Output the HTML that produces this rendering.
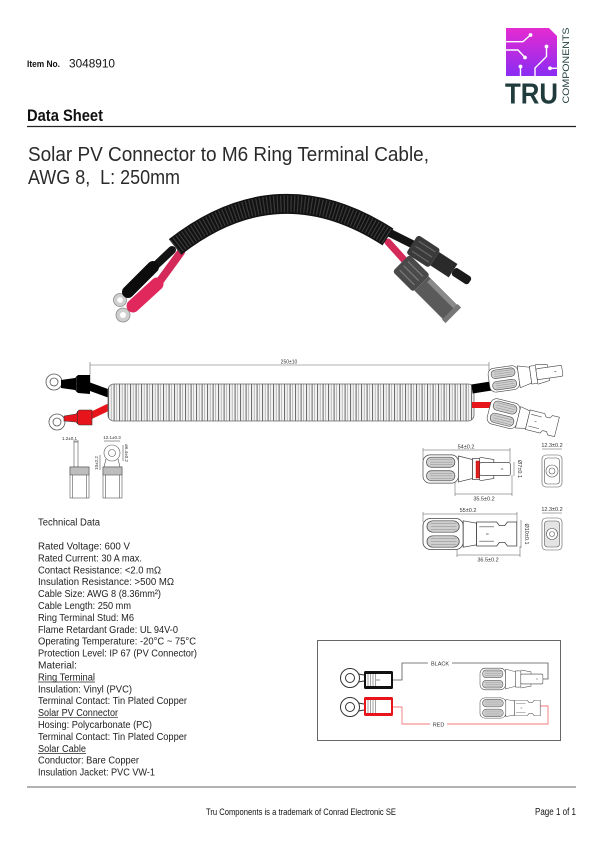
<!DOCTYPE html>
<html><head><meta charset="utf-8">
<style>
html,body{margin:0;padding:0;background:#fff;}
svg{display:block;}
text{font-family:"Liberation Sans",Arial,sans-serif;}
</style></head><body>
<svg width="601" height="850" viewBox="0 0 601 850" xmlns="http://www.w3.org/2000/svg">
<defs>
<linearGradient id="lg" x1="0" y1="0" x2="0" y2="1">
<stop offset="0" stop-color="#e52bd0"/><stop offset="1" stop-color="#8a2cf3"/>
</linearGradient>
<pattern id="rib" x="108" y="0" width="5.5" height="10" patternUnits="userSpaceOnUse">
<rect width="5.5" height="10" fill="#f4f4f4"/>
<line x1="0.6" y1="0" x2="0.6" y2="10" stroke="#555" stroke-width="0.9"/>
<line x1="3.2" y1="0" x2="3.2" y2="10" stroke="#a0a0a0" stroke-width="0.7"/>
</pattern>
<g id="mc" stroke="#444" stroke-width="0.6" fill="#fff">
  <rect x="0" y="-12" width="30" height="24" rx="6"/>
  <rect x="3" y="-10" width="24" height="8.5" rx="4" fill="#cfcfcf"/>
  <rect x="3" y="1.5" width="24" height="8.5" rx="4" fill="#cfcfcf"/>
  <path d="M6,-8 H25 M6,-5.8 H25 M6,-3.6 H25 M6,3.6 H25 M6,5.8 H25 M6,8 H25" stroke="#888" stroke-width="0.4" fill="none"/>
  <path d="M30,-11 L42,-8 L42,8 L30,11 Z"/>
  <rect x="42" y="-9" width="6" height="18"/>
  <path d="M48,-10 L60,-8 L60,-5.5 M48,10 L60,8 L60,5.5" fill="none"/>
  <rect x="48" y="-5.5" width="26" height="11" rx="1.5"/>
  <line x1="66" y1="0" x2="68" y2="0"/>
</g>
<g id="fc" stroke="#444" stroke-width="0.6" fill="#fff">
  <rect x="0" y="-13" width="30" height="26" rx="6"/>
  <rect x="3" y="-11" width="24" height="9.5" rx="4.5" fill="#cfcfcf"/>
  <rect x="3" y="1.5" width="24" height="9.5" rx="4.5" fill="#cfcfcf"/>
  <path d="M6,-9 H25 M6,-6.5 H25 M6,-4 H25 M6,4 H25 M6,6.5 H25 M6,9 H25" stroke="#888" stroke-width="0.4" fill="none"/>
  <path d="M30,-11 L40,-9 L40,9 L30,11 Z"/>
  <path d="M40,-10 H55 L57,-7 H61 L63,-10 H70 V10 H63 L61,7 H57 L55,10 H40 Z"/>
  <path d="M42,-6 H53 M42,6 H53" fill="none"/>
  <line x1="47" y1="0" x2="49" y2="0"/>
</g>
</defs>

<!-- Header -->
<text x="27" y="67" font-size="9" font-weight="bold" textLength="33" lengthAdjust="spacingAndGlyphs" fill="#111">Item No.</text>
<text x="69" y="67.5" font-size="11.5" textLength="46" lengthAdjust="spacingAndGlyphs" fill="#111">3048910</text>

<!-- Logo -->
<path d="M506,28 H549 L557,36 V76 H506 Z" fill="url(#lg)"/>
<g stroke="#fff" stroke-width="1.4" fill="none">
<path d="M506,41.7 H523 L530.5,35"/>
<path d="M506,50 H518 L525,57.5"/>
<path d="M520.5,66.5 V76"/>
<path d="M546.5,46.5 V56.5 L535,68 V76"/>
<path d="M557,68.3 H550"/>
</g>
<g fill="#fff">
<circle cx="530.5" cy="35" r="1.9"/><circle cx="525" cy="57.5" r="1.9"/><circle cx="520.5" cy="66.5" r="1.9"/><circle cx="546.5" cy="46.5" r="1.9"/><circle cx="550" cy="68.3" r="1.9"/>
</g>
<text x="505" y="103.5" font-size="29" font-weight="bold" fill="#1f3b3c" textLength="53" lengthAdjust="spacingAndGlyphs">TRU</text>
<text transform="translate(569,103.5) rotate(-90)" x="0" y="0" font-size="9.5" fill="#1f3b3c" textLength="76" lengthAdjust="spacingAndGlyphs">COMPONENTS</text>

<text x="27" y="121" font-size="17" font-weight="bold" fill="#111" textLength="76" lengthAdjust="spacingAndGlyphs">Data Sheet</text>
<line x1="27" y1="126.5" x2="576" y2="126.5" stroke="#222" stroke-width="1.2"/>

<text x="28" y="161" font-size="20" fill="#2a2a2a" textLength="401" lengthAdjust="spacingAndGlyphs">Solar PV Connector to M6 Ring Terminal Cable,</text>
<text x="28" y="184" font-size="20" fill="#2a2a2a" textLength="152" lengthAdjust="spacingAndGlyphs">AWG 8,&#160; L: 250mm</text>

<!-- Photo -->
<g>
<circle cx="120" cy="300" r="6.5" fill="#cfcfcf" stroke="#8a8a8a" stroke-width="0.8"/>
<circle cx="120" cy="300" r="2.8" fill="#fff"/>
<circle cx="123" cy="315" r="7" fill="#cfcfcf" stroke="#8a8a8a" stroke-width="0.8"/>
<circle cx="123" cy="315" r="3" fill="#fff"/>
<path d="M172,250 L153,268" stroke="#141414" stroke-width="8" stroke-linecap="round"/>
<path d="M153,267 L128,292" stroke="#0c0c0c" stroke-width="12" stroke-linecap="round"/>
<path d="M181,252 L157,285" stroke="#d42a5a" stroke-width="8" stroke-linecap="round"/>
<path d="M157,284 L133,306" stroke="#e0285c" stroke-width="13" stroke-linecap="round"/>
<path d="M388,242 L406,262" stroke="#d42a5a" stroke-width="7" stroke-linecap="round"/>
<path d="M390,233 L416,246" stroke="#141414" stroke-width="8" stroke-linecap="round"/>
<path d="M175,247 Q278.5,166 388,237" stroke="#121212" stroke-width="20" fill="none"/>
<path d="M175,247 Q278.5,166 388,237" stroke="#3a3a3a" stroke-width="17" fill="none" stroke-dasharray="1.2 2.2"/>
<g transform="translate(412,244) rotate(33)">
  <rect x="0" y="-11" width="27" height="22" rx="3" fill="#3a3a3a"/>
  <path d="M4,-6 H24 M4,0 H24 M4,6 H24" stroke="#666" stroke-width="1.2"/>
  <rect x="27" y="-8" width="22" height="16" fill="#2a2a2a"/>
  <rect x="49" y="-4.5" width="20" height="9" rx="3" fill="#1a1a1a"/>
</g>
<g transform="translate(401,263) rotate(45)">
  <rect x="0" y="-12" width="29" height="24" rx="3" fill="#4a4a4a"/>
  <path d="M4,-6 H25 M4,0 H25 M4,6 H25" stroke="#7a7a7a" stroke-width="1.2"/>
  <rect x="29" y="-10" width="44" height="20" fill="#5a5a5a"/>
  <rect x="32" y="-10" width="38" height="5" fill="#8a8a8a"/>
  <rect x="69" y="-11" width="5" height="22" fill="#777"/>
</g>
</g>

<!-- Section drawing -->
<g stroke="#666" stroke-width="0.6">
<line x1="90" y1="365" x2="489" y2="365"/>
<line x1="90" y1="362" x2="90" y2="387"/>
<line x1="489" y1="362" x2="489" y2="381"/>
</g>
<text x="289" y="363.5" font-size="5" text-anchor="middle" fill="#333">250±10</text>
<!-- left terminals -->
<circle cx="54" cy="382" r="8" fill="#fff" stroke="#555" stroke-width="0.8"/>
<circle cx="54" cy="382" r="4" fill="#fff" stroke="#555" stroke-width="0.8"/>
<path d="M88,386 L110,394" stroke="#000" stroke-width="8"/>
<path d="M61,380 L75,378 L78,375 L90,375 L90,394 L78,393 L75,390 L61,388 Z" fill="#000"/>
<line x1="76.5" y1="376" x2="76.5" y2="392" stroke="#444" stroke-width="0.6"/>
<circle cx="57" cy="422" r="8" fill="#fff" stroke="#555" stroke-width="0.8"/>
<circle cx="57" cy="422" r="4" fill="#fff" stroke="#555" stroke-width="0.8"/>
<path d="M90,416 L111,406" stroke="#e8141b" stroke-width="7"/>
<path d="M64,416 L76,414 L79,410 L92,410 L92,425 L79,425 L76,422 L64,421 Z" fill="#e8141b" stroke="#333" stroke-width="0.6"/>
<line x1="77.5" y1="411" x2="77.5" y2="424" stroke="#333" stroke-width="0.6"/>
<!-- tube -->
<rect x="108" y="384" width="366" height="37" rx="6" fill="url(#rib)" stroke="#666" stroke-width="0.8"/>
<!-- right wires -->
<path d="M472,389 L491,386" stroke="#000" stroke-width="9"/>
<path d="M472,405 L491,405" stroke="#e8141b" stroke-width="6"/>
<use href="#mc" transform="translate(489,381) rotate(-8)"/>
<use href="#fc" transform="translate(489,410) rotate(14)"/>

<!-- small terminal diagrams -->
<g stroke="#555" stroke-width="0.6" fill="#fff">
<line x1="73" y1="441" x2="79" y2="441"/>
<rect x="74" y="442" width="4" height="25"/>
<rect x="70" y="467" width="19" height="31"/>
<rect x="70" y="467" width="19" height="8" fill="#bdbdbd"/>
<line x1="72.5" y1="475" x2="72.5" y2="498"/><line x1="86.5" y1="475" x2="86.5" y2="498"/>
<circle cx="112" cy="453" r="8"/>
<circle cx="112" cy="453" r="3.5"/>
<path d="M106,459 L104,467 M118,459 L120,467" fill="none"/>
<rect x="103" y="467" width="19" height="31"/>
<rect x="103" y="467" width="19" height="8" fill="#bdbdbd"/>
<line x1="105.5" y1="475" x2="105.5" y2="498"/><line x1="119.5" y1="475" x2="119.5" y2="498"/>
<line x1="104" y1="441" x2="120" y2="441"/>
<line x1="100" y1="455" x2="100" y2="470"/>
<line x1="123" y1="445" x2="123" y2="461"/>
</g>
<g font-size="4.5" fill="#333">
<text x="62" y="440">1.2±0.1</text>
<text x="112" y="439" text-anchor="middle">12.1±0.3</text>
<text transform="translate(98,463) rotate(-90)" text-anchor="middle">10±2.2</text>
<text transform="translate(125,453) rotate(90)" text-anchor="middle">ø6.4±0.2</text>
</g>

<!-- connector detail drawings -->
<g stroke="#555" stroke-width="0.5">
<line x1="423" y1="450" x2="510" y2="450"/>
<line x1="423" y1="448" x2="423" y2="460"/><line x1="510" y1="448" x2="510" y2="462"/>
<line x1="455" y1="494" x2="512" y2="494"/>
<line x1="455" y1="482" x2="455" y2="496"/><line x1="512" y1="475" x2="512" y2="496"/>
<line x1="514" y1="462" x2="514" y2="476"/>
<line x1="542" y1="449" x2="562" y2="449"/>
<line x1="423" y1="514" x2="517" y2="514"/>
<line x1="423" y1="512" x2="423" y2="522"/><line x1="517" y1="512" x2="517" y2="522"/>
<line x1="457" y1="555" x2="520" y2="555"/>
<line x1="457" y1="545" x2="457" y2="557"/><line x1="520" y1="546" x2="520" y2="557"/>
<line x1="521" y1="520" x2="521" y2="548"/>
<line x1="542" y1="513" x2="562" y2="513"/>
</g>
<use href="#mc" transform="translate(423,469) scale(1.18)"/>
<rect x="476" y="461" width="3.5" height="17" fill="#e02020" stroke="#a00" stroke-width="0.4"/>
<use href="#fc" transform="translate(423,534) scale(1.34,1.2)"/>
<g stroke="#555" stroke-width="0.6" fill="#fff">
<rect x="542" y="455" width="20" height="32" rx="4"/>
<rect x="544.5" y="458" width="15" height="26" rx="3"/>
<circle cx="552" cy="471" r="6"/><circle cx="552" cy="471" r="3"/>
<rect x="542" y="518" width="20" height="32" rx="4"/>
<rect x="544.5" y="521" width="15" height="26" rx="3" fill="#e4e4e4"/>
<circle cx="552" cy="534" r="5.5" fill="#fff"/><circle cx="552" cy="534" r="2.5"/>
</g>
<g font-size="5.5" fill="#333" text-anchor="middle">
<text x="466" y="448.5">54±0.2</text>
<text x="484" y="500.5">35.5±0.2</text>
<text x="552" y="447">12.3±0.2</text>
<text transform="translate(518,469) rotate(90)">Ø7±0.1</text>
<text x="468" y="512">55±0.2</text>
<text x="488" y="561.5">36.5±0.2</text>
<text x="552" y="511">12.3±0.2</text>
<text transform="translate(525,534) rotate(90)">Ø10±0.1</text>
</g>

<!-- Technical data -->
<g font-size="10" fill="#222">
<text x="38" y="525.5" textLength="62" lengthAdjust="spacingAndGlyphs">Technical Data</text>
<text x="38" y="549.5" textLength="92" lengthAdjust="spacingAndGlyphs">Rated Voltage: 600 V</text>
<text x="38" y="561.4" textLength="104" lengthAdjust="spacingAndGlyphs">Rated Current: 30 A max.</text>
<text x="38" y="573.3" textLength="123" lengthAdjust="spacingAndGlyphs">Contact Resistance: &lt;2.0 mΩ</text>
<text x="38" y="585.2" textLength="136" lengthAdjust="spacingAndGlyphs">Insulation Resistance: &gt;500 MΩ</text>
<text x="38" y="597.1" textLength="123" lengthAdjust="spacingAndGlyphs">Cable Size: AWG 8 (8.36mm²)</text>
<text x="38" y="609" textLength="93" lengthAdjust="spacingAndGlyphs">Cable Length: 250 mm</text>
<text x="38" y="620.9" textLength="96" lengthAdjust="spacingAndGlyphs">Ring Terminal Stud: M6</text>
<text x="38" y="632.8" textLength="140" lengthAdjust="spacingAndGlyphs">Flame Retardant Grade: UL 94V-0</text>
<text x="38" y="644.7" textLength="158" lengthAdjust="spacingAndGlyphs">Operating Temperature: -20°C ~ 75°C</text>
<text x="38" y="656.6" textLength="159" lengthAdjust="spacingAndGlyphs">Protection Level: IP 67 (PV Connector)</text>
<text x="38" y="668.5" textLength="39" lengthAdjust="spacingAndGlyphs">Material:</text>
<text x="38" y="680.4" textLength="57" lengthAdjust="spacingAndGlyphs">Ring Terminal</text>
<text x="38" y="692.3" textLength="94" lengthAdjust="spacingAndGlyphs">Insulation: Vinyl (PVC)</text>
<text x="38" y="704.2" textLength="149" lengthAdjust="spacingAndGlyphs">Terminal Contact: Tin Plated Copper</text>
<text x="38" y="716.1" textLength="80" lengthAdjust="spacingAndGlyphs">Solar PV Connector</text>
<text x="38" y="728" textLength="114" lengthAdjust="spacingAndGlyphs">Hosing: Polycarbonate (PC)</text>
<text x="38" y="739.9" textLength="149" lengthAdjust="spacingAndGlyphs">Terminal Contact: Tin Plated Copper</text>
<text x="38" y="751.8" textLength="48" lengthAdjust="spacingAndGlyphs">Solar Cable</text>
<text x="38" y="763.7" textLength="101" lengthAdjust="spacingAndGlyphs">Conductor: Bare Copper</text>
<text x="38" y="775.6" textLength="117" lengthAdjust="spacingAndGlyphs">Insulation Jacket: PVC VW-1</text>
</g>
<g stroke="#222" stroke-width="0.7">
<line x1="38" y1="682" x2="95" y2="682"/>
<line x1="38" y1="717.7" x2="118" y2="717.7"/>
<line x1="38" y1="753.4" x2="86" y2="753.4"/>
</g>

<!-- Wiring diagram -->
<rect x="317.5" y="640.5" width="243" height="100" fill="none" stroke="#666" stroke-width="1"/>
<polyline points="377,680 402,680 402,663 548,663 548,679 537,679" fill="none" stroke="#555" stroke-width="0.8"/>
<polyline points="377,707 402,707 402,724 548,724 548,706 537,706" fill="none" stroke="#f07a7a" stroke-width="0.9"/>
<rect x="428" y="660" width="24" height="6" fill="#fff"/>
<rect x="430" y="721" width="17" height="6" fill="#fff"/>
<g font-size="5.5" fill="#333" text-anchor="middle">
<text x="440" y="665.5">BLACK</text>
<text x="438.5" y="726.5">RED</text>
</g>
<g stroke="#333" stroke-width="1" fill="#fff">
<circle cx="350" cy="678" r="9.5"/><circle cx="350" cy="678" r="4.5"/>
<circle cx="350" cy="707" r="9.5"/><circle cx="350" cy="707" r="4.5"/>
<path d="M358.5,674 L364,675 M358.5,682 L364,681 M358.5,703 L364,704 M358.5,711 L364,710" fill="none"/>
</g>
<rect x="364" y="671" width="29" height="18" rx="1.5" fill="#111"/>
<rect x="366" y="674" width="25" height="12" fill="#fff"/>
<path d="M368,674 V686 M370.5,674 V686 M373,674 V686 M375.5,674 V686" stroke="#444" stroke-width="0.5"/>
<line x1="376" y1="680" x2="380" y2="680" stroke="#444" stroke-width="0.6"/>
<rect x="364" y="697" width="29" height="19" rx="1.5" fill="#e8141b"/>
<rect x="366" y="700" width="25" height="13" fill="#fff"/>
<path d="M368,700 V713 M370.5,700 V713 M373,700 V713 M375.5,700 V713" stroke="#444" stroke-width="0.5"/>
<use href="#mc" transform="translate(480,679) scale(0.85,0.9)"/>
<use href="#fc" transform="translate(480,708) scale(0.86,0.78)"/>

<!-- Footer -->
<line x1="27" y1="787" x2="576" y2="787" stroke="#999" stroke-width="1.5"/>
<text x="206" y="815" font-size="9.5" fill="#111" textLength="190" lengthAdjust="spacingAndGlyphs">Tru Components is a trademark of Conrad Electronic SE</text>
<text x="535" y="815" font-size="10" fill="#111" textLength="41" lengthAdjust="spacingAndGlyphs">Page 1 of 1</text>
</svg>
</body></html>
